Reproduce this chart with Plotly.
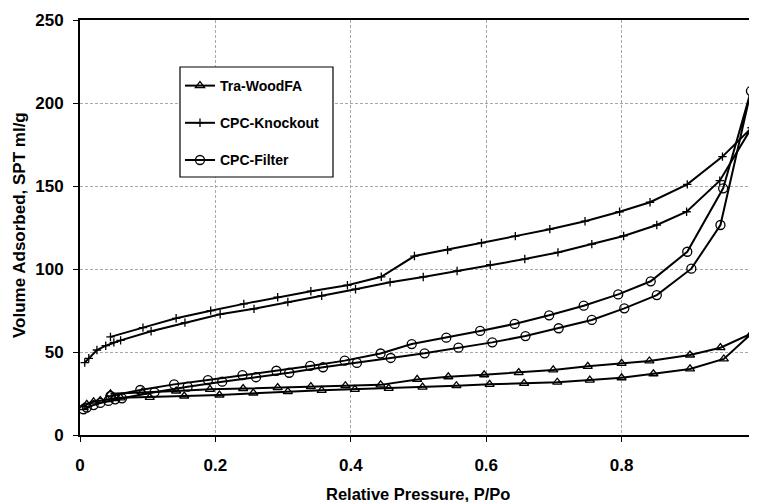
import plotly.graph_objects as go

# Tra-WoodFA (adsorption then desorption)
wood_x = [0.005, 0.01, 0.02, 0.03, 0.04, 0.05, 0.06, 0.103, 0.154, 0.206, 0.256, 0.307, 0.357, 0.406,
          0.456, 0.506, 0.556, 0.605, 0.656, 0.705, 0.753, 0.80, 0.847, 0.901, 0.951, 0.992,
          0.946, 0.901, 0.841, 0.800, 0.750, 0.699, 0.648, 0.597, 0.544, 0.498, 0.444, 0.392,
          0.341, 0.292, 0.241, 0.192, 0.142, 0.092, 0.045]
wood_y = [16.5, 18.5, 20.0, 20.8, 21.4, 22.0, 22.4, 22.7, 23.5, 24.1, 25.3, 26.1, 26.9, 27.5,
          28.1, 28.9, 29.7, 30.5, 31.1, 31.8, 33.1, 34.5, 36.9, 39.8, 45.8, 61.2,
          52.6, 48.2, 44.6, 43.2, 41.4, 39.2, 37.6, 36.3, 35.1, 33.5, 30.2, 29.7,
          29.1, 28.5, 28.0, 27.5, 26.5, 25.8, 24.8]

# CPC-Knockout
ko_x = [0.007, 0.013, 0.025, 0.038, 0.05, 0.06, 0.105, 0.155, 0.207, 0.257, 0.307, 0.357, 0.407,
        0.458, 0.507, 0.557, 0.606, 0.657, 0.706, 0.756, 0.803, 0.852, 0.896, 0.945, 0.992,
        0.949, 0.897, 0.842, 0.797, 0.746, 0.694, 0.643, 0.593, 0.543, 0.494, 0.445, 0.395,
        0.341, 0.292, 0.242, 0.193, 0.142, 0.093, 0.045]
ko_y = [43.6, 46.2, 51.2, 53.8, 55.8, 57.0, 62.5, 67.7, 72.7, 76.0, 80.1, 83.9, 87.8,
        92.0, 95.2, 98.8, 102.6, 106.0, 110.0, 115.0, 119.9, 126.5, 134.5, 153.2, 185.1,
        167.7, 151.0, 140.2, 134.5, 128.8, 124.0, 119.8, 115.7, 111.4, 107.8, 95.3, 90.2,
        86.6, 83.0, 79.0, 74.9, 70.3, 64.7, 59.1]

# CPC-Filter
cf_x = [0.005, 0.01, 0.02, 0.03, 0.042, 0.052, 0.062, 0.110, 0.159, 0.210, 0.260, 0.309, 0.359,
        0.409, 0.459, 0.509, 0.559, 0.609, 0.658, 0.707, 0.756, 0.804, 0.852, 0.903, 0.946, 0.991,
        0.950, 0.897, 0.843, 0.795, 0.744, 0.693, 0.642, 0.591, 0.541, 0.490, 0.444, 0.391,
        0.340, 0.290, 0.240, 0.189, 0.139, 0.089, 0.045]
cf_y = [15.5, 16.5, 18.0, 19.3, 20.5, 21.5, 22.1, 25.7, 29.1, 32.1, 34.8, 37.5, 40.8,
        43.4, 46.4, 49.2, 52.6, 55.8, 59.6, 64.3, 69.3, 76.3, 84.3, 100.2, 126.5, 207.2,
        148.6, 110.4, 92.6, 84.7, 77.9, 72.1, 66.9, 62.7, 58.6, 54.8, 49.1, 44.8,
        41.6, 38.7, 36.1, 33.1, 30.5, 27.1, 23.5]

x_ticks = [0, 0.2, 0.4, 0.6, 0.8, 1]
x_labels = ["0", "0.2", "0.4", "0.6", "0.8", "1"]
y_ticks = [0, 50, 100, 150, 200, 250]

FONT = "Liberation Sans, Arial, sans-serif"

# page body has an 8px default margin; figure is sized/offset to compensate
fig = go.Figure()
series = [
    ("Tra-WoodFA", wood_x, wood_y, "triangle-up-open", 8),
    ("CPC-Knockout", ko_x, ko_y, "cross-thin-open", 6),
    ("CPC-Filter", cf_x, cf_y, "circle-open", 9),
]
for i, (name, xs, ys, sym, sz) in enumerate(series):
    fig.add_trace(go.Scatter(
        x=xs, y=ys, name=name, mode="lines+markers",
        legendgroup=f"g{i}",
        line=dict(color="black", width=2),
        marker=dict(symbol=sym, size=sz, color="black", line=dict(color="black", width=1.3)),
    ))

fig.update_layout(
    width=749, height=494,
    margin=dict(l=72, r=0, t=12, b=67),
    paper_bgcolor="white", plot_bgcolor="white",
    font=dict(family=FONT, size=14, color="black", weight="bold"),
    showlegend=True,
    legend=dict(
        x=0.1477, y=0.8795, xanchor="left", yanchor="top",
        borderwidth=0, bgcolor="rgba(0,0,0,0)",
        font=dict(family=FONT, size=14, color="black", weight="bold"),
        itemwidth=30, tracegroupgap=16, traceorder="grouped",
    ),
    shapes=[
        dict(type="rect", xref="paper", yref="paper",
             x0=0.1477, x1=0.3737, y0=0.6217, y1=0.8867,
             line=dict(color="black", width=1.2), fillcolor="white", layer="above"),
    ],
    annotations=[
        dict(text="Relative Pressure, P/Po", xref="paper", yref="paper",
             x=0.4993, y=0, yanchor="middle", xanchor="center", yshift=-59,
             showarrow=False, font=dict(family=FONT, size=16.5, weight="bold")),
        dict(text="Volume Adsorbed, SPT ml/g", xref="paper", yref="paper",
             x=0, y=0.506, xanchor="center", yanchor="middle", xshift=-61,
             textangle=-90, showarrow=False, font=dict(family=FONT, size=17, weight="bold")),
    ],
)
fig.update_xaxes(
    range=[0, 1], tickvals=x_ticks, ticktext=x_labels, automargin=False,
    showgrid=True, gridcolor="#a8a8a8", griddash="3px,2px", gridwidth=1,
    showline=True, linecolor="black", linewidth=2, mirror=True,
    ticks="outside", ticklen=5, tickcolor="black", tickwidth=1,
    zeroline=False, ticklabelstandoff=9,
    tickfont=dict(size=17, weight="bold"),
)
fig.update_yaxes(
    range=[0, 250], tickvals=y_ticks, automargin=False,
    showgrid=True, gridcolor="#a8a8a8", griddash="3px,2px", gridwidth=1,
    showline=True, linecolor="black", linewidth=2,
    ticks="outside", ticklen=5, tickcolor="black", tickwidth=1,
    zeroline=False, ticklabelstandoff=6,
    tickfont=dict(size=17, weight="bold"),
)

fig.write_html("out.html")
